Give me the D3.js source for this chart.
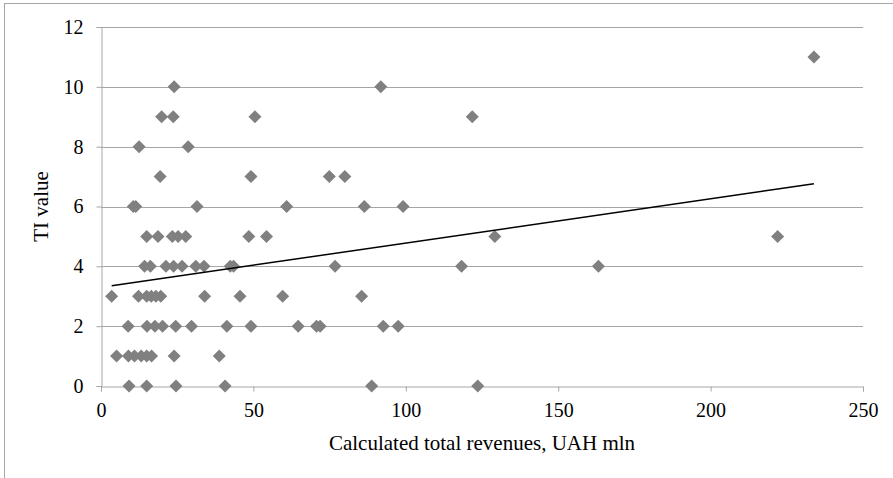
<!DOCTYPE html>
<html>
<head>
<meta charset="utf-8">
<script src="https://cdn.jsdelivr.net/npm/d3@7"></script>
<style>
  html, body { margin: 0; padding: 0; background: #fff; }
  svg { display: block; }
  text { font-family: "Liberation Serif", "Times New Roman", "DejaVu Serif", serif; fill: #000; }
</style>
</head>
<body>
<script>
// ---- data ----
const revenues = [
  9.2, 15.0, 24.6, 40.7, 88.8, 123.6,
  5.1, 9.0, 11.0, 13.2, 15.0, 16.6, 24.0, 38.8,
  8.9, 15.1, 17.7, 20.2, 24.5, 29.7, 41.3, 49.2, 64.7, 70.7, 71.9, 92.6, 97.5,
  3.5, 12.3, 15.0, 16.5, 18.0, 19.6, 34.0, 45.6, 59.6, 85.5,
  14.3, 16.2, 21.3, 23.8, 26.6, 31.1, 33.8, 42.4, 43.5, 76.8, 118.3, 163.2,
  15.0, 18.7, 23.4, 25.3, 27.8, 48.5, 54.3, 129.2, 222.0,
  10.6, 11.4, 31.5, 60.9, 86.4, 99.1,
  19.4, 49.2, 74.9, 80.0,
  12.5, 28.6,
  19.9, 23.7, 50.5, 121.8,
  24.0, 91.8,
  233.9
];
const tiValues = [
  0, 0, 0, 0, 0, 0,
  1, 1, 1, 1, 1, 1, 1, 1,
  2, 2, 2, 2, 2, 2, 2, 2, 2, 2, 2, 2, 2,
  3, 3, 3, 3, 3, 3, 3, 3, 3, 3,
  4, 4, 4, 4, 4, 4, 4, 4, 4, 4, 4, 4,
  5, 5, 5, 5, 5, 5, 5, 5, 5,
  6, 6, 6, 6, 6, 6,
  7, 7, 7, 7,
  8, 8,
  9, 9, 9, 9,
  10, 10,
  11
];
// linear trend line as drawn in the reference (end points)
const trendX = [3.5, 233.9];
const trendY = [3.35, 6.76];

const xTicks = [0, 50, 100, 150, 200, 250];
const yTicks = [0, 2, 4, 6, 8, 10, 12];
const xTitle = "Calculated total revenues, UAH mln";
const yTitle = "TI value";

// ---- drawing ----
const W = 893, H = 478;
const FONT = '"Liberation Serif", "Times New Roman", "DejaVu Serif", serif';
const svg = d3.select("body").append("svg").attr("width", W).attr("height", H);
svg.append("rect").attr("width", W).attr("height", H).attr("fill", "#fff");
// outer chart border (right / bottom edges fall outside the picture)
svg.append("rect").attr("x", 4.5).attr("y", 3.5).attr("width", 900).attr("height", 490)
  .attr("fill", "none").attr("stroke", "#a6a6a6").attr("stroke-width", 1);

const x = d3.scaleLinear().domain([0, 250]).range([101, 863]);
const y = d3.scaleLinear().domain([0, 12]).range([386, 27]);

const gridColor = "#a6a6a6";

// horizontal gridlines
svg.append("g").selectAll("line").data(yTicks.filter(d => d !== 0)).join("line")
  .attr("x1", x(0)).attr("x2", x(250))
  .attr("y1", d => Math.round(y(d)) + 0.5).attr("y2", d => Math.round(y(d)) + 0.5)
  .attr("stroke", gridColor).attr("stroke-width", 1);

// y axis
const yAxis = d3.axisLeft(y).tickValues(yTicks).tickSize(5).tickPadding(13).tickFormat(d3.format("d"));
const gy = svg.append("g").attr("transform", `translate(${Math.round(x(0)) + 0.5},0)`).call(yAxis)
  .attr("font-family", FONT).attr("font-size", 20);
gy.select(".domain").attr("stroke", gridColor);
gy.selectAll(".tick line").attr("stroke", gridColor);
gy.selectAll(".tick text").attr("fill", "#000");

// x axis
const xAxis = d3.axisBottom(x).tickValues(xTicks).tickSize(5).tickPadding(11).tickFormat(d3.format("d"));
const gx = svg.append("g").attr("transform", `translate(0,${Math.round(y(0)) + 0.5})`).call(xAxis)
  .attr("font-family", FONT).attr("font-size", 20);
gx.select(".domain").attr("stroke", gridColor);
gx.selectAll(".tick line").attr("stroke", gridColor);
gx.selectAll(".tick text").attr("fill", "#000");

// points
const pts = revenues.map((v, i) => ({ x: v, y: tiValues[i] }));
const diamond = d3.symbol().type(d3.symbolDiamond2).size(108);
svg.append("g").selectAll("path").data(pts).join("path")
  .attr("d", diamond)
  .attr("transform", d => `translate(${x(d.x)},${y(d.y)})`)
  .attr("fill", "#808080");

// trend line
const trend = trendX.map((v, i) => ({ x: v, y: trendY[i] }));
svg.append("path").datum(trend)
  .attr("d", d3.line().x(d => x(d.x)).y(d => y(d.y)))
  .attr("fill", "none").attr("stroke", "#000").attr("stroke-width", 1.5);

// titles
svg.append("text").attr("x", (x(0) + x(250)) / 2).attr("y", 443)
  .attr("text-anchor", "middle").attr("dominant-baseline", "central")
  .attr("font-size", 21).text(xTitle);
svg.append("text")
  .attr("transform", `translate(41,${(y(0) + y(12)) / 2}) rotate(-90)`)
  .attr("text-anchor", "middle").attr("dominant-baseline", "central")
  .attr("font-size", 21).text(yTitle);
</script>
</body>
</html>
